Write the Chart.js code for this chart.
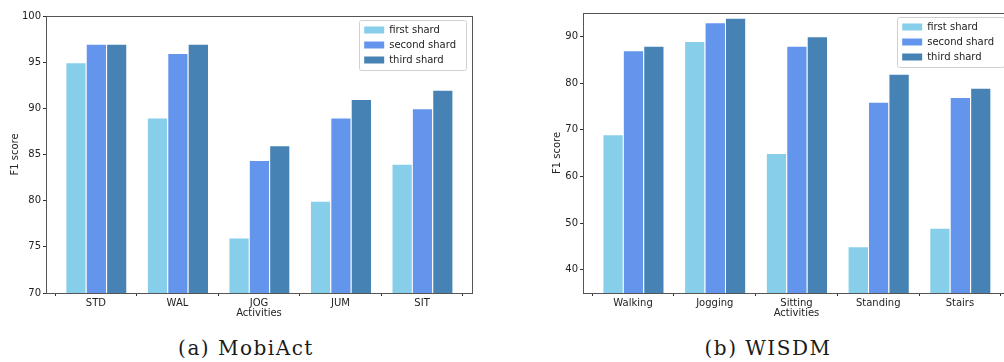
<!DOCTYPE html>
<html>
<head>
<meta charset="utf-8">
<script src="https://cdn.jsdelivr.net/npm/chart.js@4"></script>
<style>
  html, body { margin: 0; padding: 0; background: #fff; overflow: hidden; }
  #page { position: relative; width: 1004px; height: 362px; overflow: hidden; }
  canvas { position: absolute; top: 0; }
  #chartA { left: 0; }
  #chartB { left: 500px; }
  .caption {
    position: absolute; top: 337px; text-align: center;
    font-family: "DejaVu Serif", serif; font-size: 20px; line-height: 22px;
    letter-spacing: 1.5px; color: #1a1a1a;
  }
</style>
</head>
<body>
<div id="page">
  <canvas id="chartA" width="490" height="330"></canvas>
  <canvas id="chartB" width="520" height="330"></canvas>
  <div class="caption" style="left:146px;width:200px">(a) MobiAct</div>
  <div class="caption" style="left:668px;width:200px">(b) WISDM</div>
</div>
<script>
const seriesLabels = ['first shard', 'second shard', 'third shard'];
const seriesColors = ['#87ceeb', '#6495ed', '#4682b4'];

const mobiActCategories = ['STD', 'WAL', 'JOG', 'JUM', 'SIT'];
const mobiActFirst = [95, 89, 76, 80, 84];
const mobiActSecond = [97, 96, 84.4, 89, 90];
const mobiActThird = [97, 97, 86, 91, 92];
const mobiActTicks = [70, 75, 80, 85, 90, 95, 100];

const wisdmCategories = ['Walking', 'Jogging', 'Sitting', 'Standing', 'Stairs'];
const wisdmFirst = [69, 89, 65, 45, 49];
const wisdmSecond = [87, 93, 88, 76, 77];
const wisdmThird = [88, 94, 90, 82, 79];
const wisdmTicks = [40, 50, 60, 70, 80, 90];

Chart.defaults.font.family = 'DejaVu Sans';
Chart.defaults.font.size = 10;
Chart.defaults.color = '#222';

const spineColor = '#555';

// legend sits inside the plot, top right, with a matplotlib-like frame
const insideLegend = {
    id: 'insideLegend',
    afterLayout(chart) {
        const lg = chart.legend, area = chart.chartArea;
        lg.left = area.right - 6 - lg.width;
        lg.right = lg.left + lg.width;
        lg.top = area.top + 4;
        lg.bottom = area.bottom;
    },
    beforeDraw(chart) {
        const lg = chart.legend, ctx = chart.ctx;
        const h = lg.legendItems.length * 15 + 5;
        ctx.save();
        ctx.fillStyle = 'rgba(255,255,255,0.8)';
        ctx.strokeStyle = '#d0d0d0';
        ctx.lineWidth = 1;
        ctx.beginPath();
        ctx.roundRect(Math.round(lg.left) + 0.5, Math.round(lg.top) + 0.5, Math.round(lg.width), h, 2);
        ctx.fill();
        ctx.stroke();
        ctx.restore();
    },
    afterDatasetsDraw(chart) {
        const a = chart.chartArea, ctx = chart.ctx;
        ctx.save();
        ctx.strokeStyle = spineColor;
        ctx.lineWidth = 1;
        ctx.strokeRect(Math.round(a.left) + 0.5, Math.round(a.top) + 0.5,
            Math.round(a.right - a.left), Math.round(a.bottom - a.top));
        ctx.restore();
    }
};

function buildDatasets(categories, series) {
    return series.map((values, s) => ({
        label: seriesLabels[s],
        data: categories.map((c, i) => ({ x: i, y: values[i] })),
        backgroundColor: seriesColors[s],
        borderColor: 'rgba(255,255,255,0.75)',
        borderWidth: { top: 1, left: 1, right: 0, bottom: 0 },
        borderSkipped: false,
        categoryPercentage: 0.75,
        barPercentage: 1.0
    }));
}

function makeChart(canvasId, categories, series, yTicks, yMin, yMax, pad, yAxisWidth) {
    const n = categories.length;
    return new Chart(document.getElementById(canvasId), {
        type: 'bar',
        data: { datasets: buildDatasets(categories, series) },
        options: {
            responsive: false,
            animation: false,
            layout: { padding: pad },
            plugins: {
                tooltip: { enabled: false },
                legend: {
                    position: 'chartArea',
                    align: 'start',
                    labels: {
                        boxWidth: 20,
                        boxHeight: 7,
                        padding: 5,
                        color: '#222',
                        generateLabels: (chart) =>
                            Chart.defaults.plugins.legend.labels.generateLabels(chart)
                                .map(item => ({ ...item, lineWidth: 0 }))
                    }
                }
            },
            scales: {
                x: {
                    type: 'linear',
                    min: -0.6125,
                    max: n - 1 + 0.6125,
                    offset: false,
                    afterBuildTicks: (scale) => { scale.ticks = categories.map((c, i) => ({ value: i })); },
                    afterFit: (scale) => { scale.height = 30; },
                    ticks: {
                        autoSkip: false,
                        maxRotation: 0,
                        padding: 1,
                        callback: (v) => categories[v]
                    },
                    grid: { drawOnChartArea: false, drawTicks: true, tickLength: 3, color: '#333' },
                    border: { display: false },
                    title: { display: true, text: 'Activities', padding: { top: 0, bottom: 4 } }
                },
                y: {
                    min: yMin,
                    max: yMax,
                    afterBuildTicks: (scale) => { scale.ticks = yTicks.map(v => ({ value: v })); },
                    afterFit: (scale) => { scale.width = yAxisWidth; },
                    ticks: { padding: 2 },
                    grid: { drawOnChartArea: false, drawTicks: true, tickLength: 3, color: '#333' },
                    border: { display: false },
                    title: { display: true, text: 'F1 score', padding: { top: 4, bottom: 0 } }
                }
            }
        },
        plugins: [insideLegend]
    });
}

makeChart('chartA', mobiActCategories, [mobiActFirst, mobiActSecond, mobiActThird],
    mobiActTicks, 70, 100, { left: 5, right: 18, top: 16, bottom: 7 }, 41);

makeChart('chartB', wisdmCategories, [wisdmFirst, wisdmSecond, wisdmThird],
    wisdmTicks, 35, 95, { left: 47, right: 10, top: 13, bottom: 7 }, 36);
</script>
</body>
</html>
